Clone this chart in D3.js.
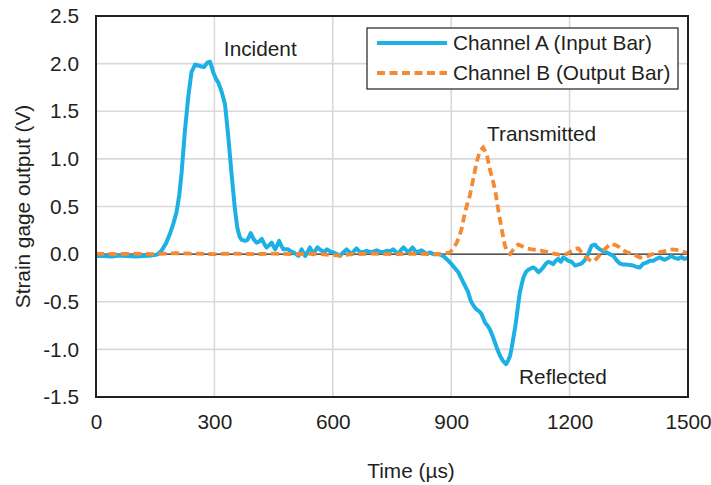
<!DOCTYPE html>
<html>
<head>
<meta charset="utf-8">
<script src="https://cdn.jsdelivr.net/npm/d3@7"></script>
<style>
  body { margin: 0; background: #fff; }
  text { font-family: "Liberation Sans", Arial, sans-serif; fill: #231f20; }
</style>
</head>
<body>
<div id="chart"></div>
<script>
// data: time in µs, output in V
var timeA = [0,20,40,60,80,100,120,140,155,166,177,187,196,204,211,217,225,234,242,251,259,267,274,282,289,297,304,310,318,327,335,344,352,358,364,369,378,384,392,399,407,413,420,426,432,438,445,450,454,460,464,469,475,487,493,500,507,513,521,530,537,542,550,556,561,572,578,585,593,601,610,618,627,635,648,655,660,667,673,686,698,711,724,737,745,753,766,772,779,791,802,812,825,838,846,855,867,875,884,893,901,910,918,925,931,937,943,948,952,958,964,971,977,982,986,992,998,1005,1011,1017,1024,1031,1039,1044,1049,1053,1057,1062,1066,1070,1074,1079,1083,1089,1095,1102,1108,1115,1121,1127,1133,1140,1146,1152,1158,1165,1171,1178,1184,1190,1197,1205,1214,1222,1230,1237,1243,1250,1256,1264,1270,1277,1285,1294,1302,1311,1320,1328,1336,1344,1352,1361,1370,1378,1387,1395,1403,1412,1420,1429,1435,1441,1450,1458,1466,1475,1483,1490,1500]
var channelA = [-0.02,-0.02,-0.025,-0.015,-0.02,-0.025,-0.02,-0.015,-0.005,0.035,0.11,0.21,0.32,0.44,0.62,0.86,1.28,1.66,1.91,1.99,1.98,1.97,1.965,2.01,2.02,1.91,1.84,1.8,1.71,1.57,1.24,0.82,0.47,0.28,0.18,0.15,0.14,0.15,0.22,0.16,0.12,0.13,0.16,0.11,0.07,0.09,0.12,0.08,0.05,0.1,0.14,0.09,0.05,0.05,0.03,0.018,0,-0.018,0.05,-0.02,0.03,0.07,0,0.04,0.07,0.035,0.02,0.05,0.03,0.018,0,-0.018,0.02,0.05,0,0.04,0.06,0.03,0.018,0.035,0.018,0.04,0.018,0.035,0.03,0.05,0,0.04,0.07,0.018,0.07,0.018,0.04,0,0.018,0,0,-0.01,-0.035,-0.07,-0.105,-0.15,-0.19,-0.25,-0.3,-0.35,-0.4,-0.47,-0.51,-0.55,-0.58,-0.6,-0.63,-0.68,-0.72,-0.75,-0.79,-0.86,-0.93,-1,-1.07,-1.12,-1.155,-1.12,-1.07,-0.99,-0.89,-0.77,-0.65,-0.52,-0.4,-0.31,-0.245,-0.19,-0.165,-0.15,-0.14,-0.16,-0.19,-0.17,-0.14,-0.1,-0.08,-0.09,-0.105,-0.07,-0.05,-0.08,-0.035,-0.05,-0.07,-0.08,-0.12,-0.11,-0.1,-0.07,-0.035,0.03,0.09,0.1,0.07,0.05,0.03,0.018,0,-0.018,-0.07,-0.1,-0.11,-0.11,-0.115,-0.12,-0.135,-0.14,-0.1,-0.09,-0.07,-0.07,-0.05,-0.035,-0.05,-0.06,-0.04,-0.018,-0.04,-0.05,-0.03,-0.05,-0.04]

var timeB = [0,50,100,150,200,250,300,350,400,450,500,550,600,620,650,700,750,800,850,875,897,905,914,920,926,935,941,947,956,964,973,981,990,998,1005,1011,1019,1028,1036,1043,1049,1056,1062,1070,1078,1091,1104,1117,1130,1142,1155,1167,1180,1192,1205,1215,1222,1230,1239,1250,1258,1268,1281,1294,1304,1312,1319,1327,1336,1348,1361,1378,1395,1410,1429,1445,1460,1479,1492,1500]
var channelB = [0.005,0,0.005,0,0.01,0.005,0,0.005,0,0.005,0,0.005,-0.01,-0.015,0,0.005,0,0.005,0,0,0.018,0.06,0.12,0.18,0.26,0.44,0.53,0.61,0.79,0.96,1.085,1.12,1.05,0.89,0.78,0.68,0.47,0.26,0.09,0.02,0,0.04,0.07,0.1,0.085,0.06,0.05,0.045,0.035,0.025,0.01,0,-0.01,0,0.035,0.055,0.06,0.02,-0.018,-0.06,-0.08,-0.05,0.018,0.07,0.11,0.1,0.09,0.07,0.04,0.015,0,-0.035,-0.03,0,0.02,0.035,0.05,0.04,0.02,0.01]

var xTicks = [0, 300, 600, 900, 1200, 1500]
var yTicks = [-1.5, -1.0, -0.5, 0.0, 0.5, 1.0, 1.5, 2.0, 2.5]
var seriesNames = ["Channel A (Input Bar)", "Channel B (Output Bar)"]
var notes = [
  { label: "Incident", t: 324, v: 2.08 },
  { label: "Transmitted", t: 991, v: 1.19 },
  { label: "Reflected", t: 1072, v: -1.365 }
]

var width = 711
var height = 485
var margin = { top: 16, right: 23, bottom: 88, left: 96 }
var fontSize = 20.8

var blue = "#1cb0e4"
var orange = "#f58a35"

var svg = d3.select("#chart")
  .append("svg")
    .attr("width", width)
    .attr("height", height)

var x = d3.scaleLinear().domain([0, 1500]).range([margin.left, width - margin.right])
var y = d3.scaleLinear().domain([-1.5, 2.5]).range([height - margin.bottom, margin.top])

// gridlines
svg.append("g")
  .selectAll("line.gx")
  .data(xTicks.slice(1, -1))
  .enter().append("line")
    .attr("x1", d => x(d)).attr("x2", d => x(d))
    .attr("y1", y(2.5)).attr("y2", y(-1.5))
    .attr("stroke", "#d9d9d9").attr("stroke-width", 1.6)

svg.append("g")
  .selectAll("line.gy")
  .data(yTicks.filter(d => d != 0 && d != 2.5 && d != -1.5))
  .enter().append("line")
    .attr("x1", x(0)).attr("x2", x(1500))
    .attr("y1", d => y(d)).attr("y2", d => y(d))
    .attr("stroke", "#d9d9d9").attr("stroke-width", 1.6)

// zero line
svg.append("line")
  .attr("x1", x(0)).attr("x2", x(1500))
  .attr("y1", y(0)).attr("y2", y(0))
  .attr("stroke", "#231f20").attr("stroke-width", 1.2)

// axes
var xAxis = d3.axisBottom(x).tickValues(xTicks).tickSize(0).tickPadding(17).tickFormat(d3.format("d"))
var yAxis = d3.axisLeft(y).tickValues(yTicks).tickSize(0).tickPadding(17)
  .tickFormat(d => d3.format(".1f")(d).replace("\u2212", "-"))

var gx = svg.append("g").attr("transform", "translate(0," + y(-1.5) + ")").call(xAxis)
var gy = svg.append("g").attr("transform", "translate(" + x(0) + ",0)").call(yAxis)
gx.select(".domain").remove()
gy.select(".domain").remove()
svg.selectAll(".tick text")
  .attr("font-size", fontSize)
  .attr("font-family", "Liberation Sans, Arial, sans-serif")
  .attr("fill", "#231f20")

// series
var line = d3.line()
  .x(d => x(d[0]))
  .y(d => y(d[1]))

svg.append("path")
  .datum(d3.zip(timeA, channelA))
  .attr("fill", "none")
  .attr("stroke", blue)
  .attr("stroke-width", 4)
  .attr("stroke-linejoin", "round")
  .attr("d", line)

svg.append("path")
  .datum(d3.zip(timeB, channelB))
  .attr("fill", "none")
  .attr("stroke", orange)
  .attr("stroke-width", 3.8)
  .attr("stroke-dasharray", "8,4.5")
  .attr("d", line)

// plot frame
svg.append("rect")
  .attr("x", x(0)).attr("y", y(2.5))
  .attr("width", x(1500) - x(0)).attr("height", y(-1.5) - y(2.5))
  .attr("fill", "none")
  .attr("stroke", "#231f20")
  .attr("stroke-width", 2)

// annotations
svg.selectAll("text.note")
  .data(notes)
  .enter().append("text")
    .attr("class", "note")
    .attr("x", d => x(d.t))
    .attr("y", d => y(d.v))
    .attr("font-size", fontSize)
    .text(d => d.label)

// axis titles
svg.append("text")
  .attr("x", 411).attr("y", 478)
  .attr("text-anchor", "middle")
  .attr("font-size", fontSize)
  .text("Time (µs)")

svg.append("text")
  .attr("transform", "translate(30," + (y(-1.5) + y(2.5)) / 2 + ") rotate(-90)")
  .attr("text-anchor", "middle")
  .attr("font-size", fontSize)
  .text("Strain gage output (V)")

// legend
var legend = svg.append("g").attr("transform", "translate(367,28)")
legend.append("rect")
  .attr("width", 311).attr("height", 61)
  .attr("fill", "#fff")
  .attr("stroke", "#231f20")
  .attr("stroke-width", 1.2)

var rows = legend.selectAll("g.row")
  .data(seriesNames)
  .enter().append("g")
    .attr("transform", (d, i) => "translate(0," + (15 + i * 30) + ")")

rows.append("line")
  .attr("x1", 10).attr("x2", 80)
  .attr("stroke", (d, i) => i == 0 ? blue : orange)
  .attr("stroke-width", 3.8)
  .attr("stroke-dasharray", (d, i) => i == 0 ? null : "8,4.5")

rows.append("text")
  .attr("x", 86).attr("y", 7)
  .attr("font-size", fontSize)
  .text(d => d)
</script>
</body>
</html>
